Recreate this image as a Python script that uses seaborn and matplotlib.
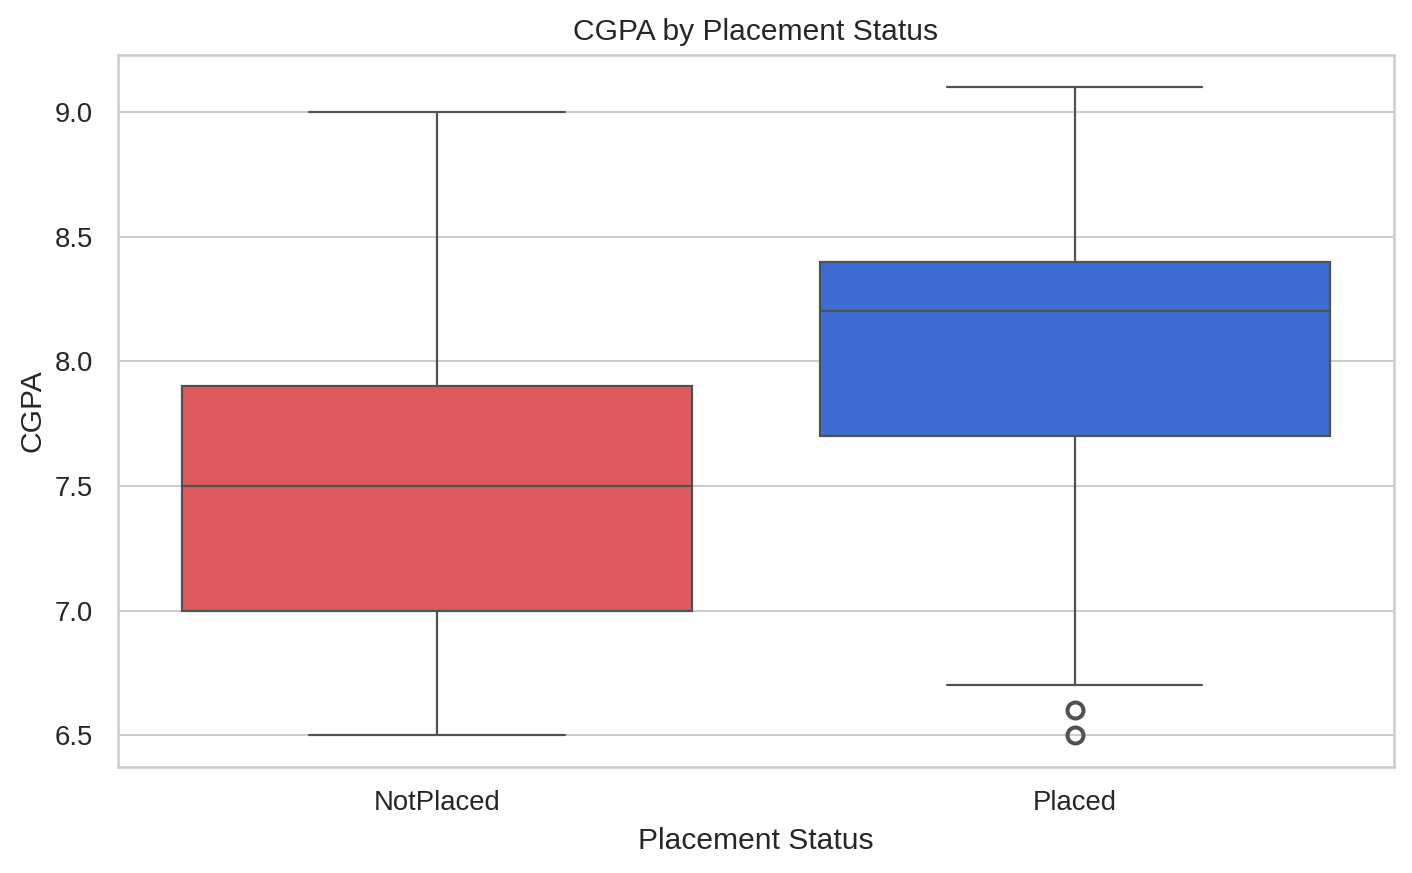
import numpy as np
import matplotlib
matplotlib.use("Agg")
import matplotlib.pyplot as plt
import seaborn as sb
import pandas as pd

# sample values chosen so the quartiles/whiskers match the picture
not_placed = [6.5, 7.0, 7.0, 7.5, 7.9, 7.9, 9.0]
placed = [6.5, 6.6, 6.7, 7.7, 7.9, 8.0, 8.2, 8.3, 8.4, 8.4, 8.6, 8.9, 9.1]
status_order = ["NotPlaced", "Placed"]
box_colors = {"NotPlaced": "#DC5A5E", "Placed": "#3D6CD2"}

df = pd.DataFrame({
    "PlacementStatus": ["NotPlaced"] * len(not_placed) + ["Placed"] * len(placed),
    "CGPA": not_placed + placed,
})

sb.set_theme(style="whitegrid", font_scale=1.25)
plt.rcParams["font.family"] = ["Liberation Sans", "DejaVu Sans"]

fig, ax = plt.subplots(figsize=(1412 / 144, 873 / 144), dpi=144)
fig.subplots_adjust(left=0.0836, right=0.987, top=0.937, bottom=0.1214)

sb.boxplot(data=df, x="PlacementStatus", y="CGPA", hue="PlacementStatus",
           order=status_order, palette=box_colors, saturation=1, legend=False,
           linewidth=1.1,
           flierprops=dict(markersize=8, markeredgewidth=2), ax=ax)

ax.set_title("CGPA by Placement Status", pad=7.5)
ax.set_xlabel("Placement Status", labelpad=5.5)
ax.set_ylabel("CGPA", labelpad=4)
ax.set_ylim(6.372, 9.229)
ax.set_yticks([6.5, 7.0, 7.5, 8.0, 8.5, 9.0])
ax.tick_params(axis="y", pad=6.5)
ax.tick_params(axis="x", pad=5.5)

fig.savefig("out.png", dpi=144)
